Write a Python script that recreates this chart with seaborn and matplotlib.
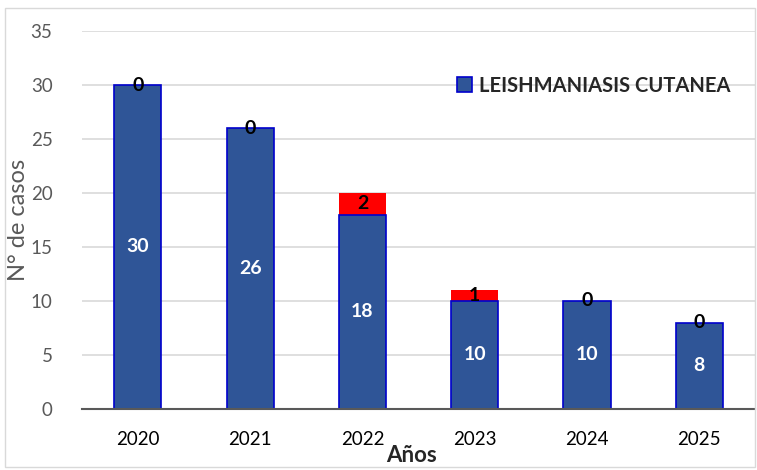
import numpy as np
import pandas as pd
import matplotlib
matplotlib.use("Agg")
import matplotlib.pyplot as plt
import seaborn as sns
from matplotlib.patches import Patch, Rectangle

years = ["2020", "2021", "2022", "2023", "2024", "2025"]
cutanea = [30, 26, 18, 10, 10, 8]
extra = [0, 0, 2, 1, 0, 0]

sns.set_style("white")
plt.rcParams["font.family"] = ["Lato", "DejaVu Sans"]

df = pd.DataFrame({"Año": years, "Cutanea": cutanea, "Extra": extra})
df["Total"] = df["Cutanea"] + df["Extra"]

fig = plt.figure(figsize=(7.57, 4.70), dpi=100)
ax = fig.add_axes([0.108, 0.13, 0.89, 0.804])

# red segments: draw total first, blue on top
sns.barplot(data=df, x="Año", y="Total", color="#FF0000", saturation=1,
            width=0.42, ax=ax, linewidth=0)
sns.barplot(data=df, x="Año", y="Cutanea", color="#2F5597", saturation=1,
            width=0.42, ax=ax, edgecolor="#0000CC", linewidth=1.2)

for i, (c, e) in enumerate(zip(cutanea, extra)):
    ax.text(i, c / 2, str(c), ha="center", va="center", color="white",
            fontsize=14, fontweight="bold")
    ax.text(i, c + e / 2, str(e), ha="center", va="center", color="black",
            fontsize=14, fontweight="bold")

ax.set_ylim(0, 35)
ax.set_xlim(-0.5, 5.5)
ax.set_yticks(range(0, 36, 5))
ax.yaxis.grid(True, color="#D9D9D9", linewidth=1.2)
ax.set_axisbelow(True)
for s in ["top", "right", "left"]:
    ax.spines[s].set_visible(False)
ax.spines["bottom"].set_color("#595959")
ax.spines["bottom"].set_linewidth(1.5)
ax.tick_params(axis="both", length=0, labelsize=13.5)
ax.tick_params(axis="y", labelcolor="#595959", pad=21)
ax.tick_params(axis="x", labelcolor="#000000", pad=16)

ax.set_xlabel("Años", fontsize=16, fontweight="bold")
ax.xaxis.set_label_coords(0.49, -0.096)
ax.set_ylabel("N° de casos", fontsize=17, color="#595959")
ax.yaxis.set_label_coords(-0.079, 0.5)

handles = [Patch(facecolor="#2F5597", edgecolor="#0000CC", linewidth=1.2)]
ax.legend(handles, ["LEISHMANIASIS CUTANEA"], loc="upper right",
          bbox_to_anchor=(0.99, 0.93), frameon=False, handlelength=0.75,
          handleheight=0.75, handletextpad=0.35,
          prop={"weight": "bold", "size": 14.5})

fig.patches.append(Rectangle((0.007, 0.006), 0.99, 0.976, transform=fig.transFigure,
                             fill=False, edgecolor="#D9D9D9", linewidth=1))

fig.savefig("out.png", dpi=100)
